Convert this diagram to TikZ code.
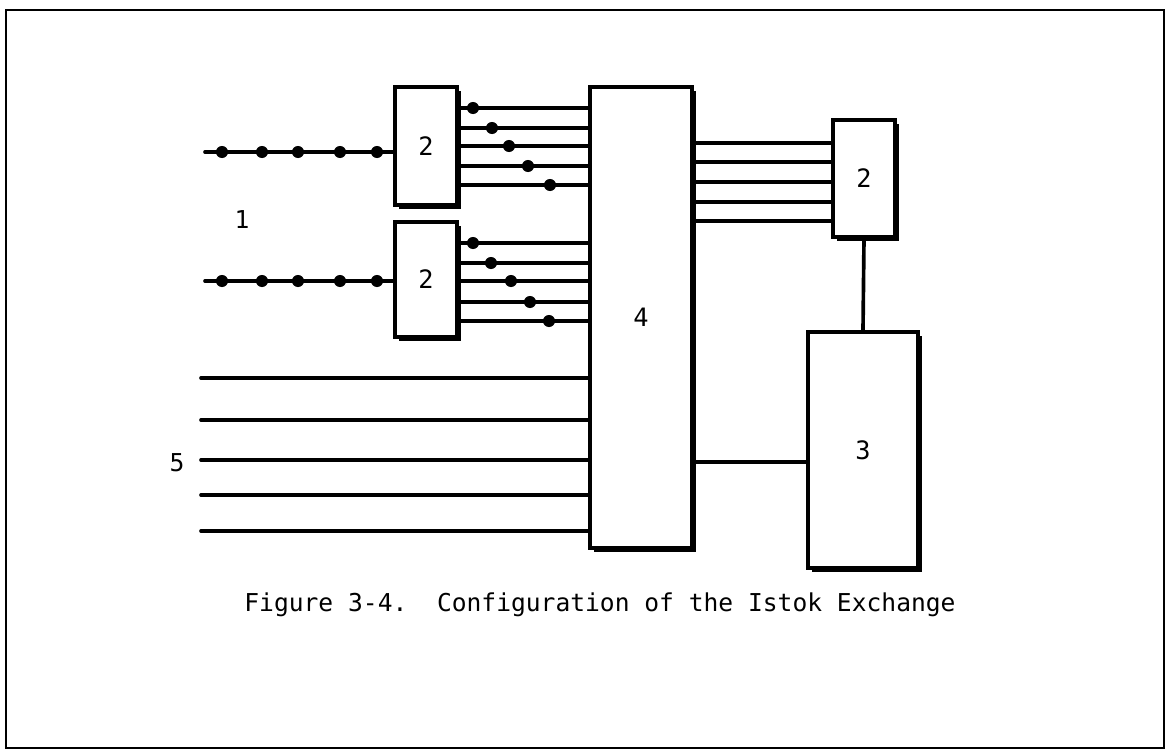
\documentclass[tikz,border=0pt]{standalone}
\usepackage{fontspec}
\newfontfamily\typefont{DejaVu Sans Mono}
\usetikzlibrary{shadows}

\begin{document}
\begin{tikzpicture}[x=0.025cm,y=-0.025cm,
    blk/.style={draw,fill=white,line width=2.6pt,inner sep=0pt,
      drop shadow={shadow xshift=2.8pt,shadow yshift=-2.8pt,fill=black,opacity=1},
      font=\typefont\fontsize{18}{21}\selectfont},
    wire/.style={line width=2.6pt,line cap=round},
    tap/.style={fill=black},
    lbl/.style={font=\typefont\fontsize{17.5}{21}\selectfont}
  ]
    \useasboundingbox (0,0) rectangle (1167,751);
    \draw[line width=2pt] (6,10) rectangle (1164,748);
    % boxes
    \node[blk,minimum width=1.55cm,minimum height=2.95cm](swA) at (426,146) {2};
    \node[blk,minimum width=1.55cm,minimum height=2.875cm](swB) at (426,279.5) {2};
    \node[blk,minimum width=2.55cm,minimum height=11.525cm](exch) at (641,317.5) {4};
    \node[blk,minimum width=1.55cm,minimum height=2.925cm](swC) at (864,178.5) {2};
    \node[blk,minimum width=2.75cm,minimum height=5.9cm](ctrl) at (863,450) {3};
    % dotted input lines
    \coordinate (inA) at (205,152);
    \coordinate (inB) at (205,281);
    \draw[wire] (inA) -- (swA.west |- inA);
    \draw[wire] (inB) -- (swB.west |- inB);
    \foreach \x in {222,262,298,340,377}{
      \fill[tap] (\x,152) circle (4.3pt);
      \fill[tap] (\x,281) circle (4.3pt);}
    % taps into 4
    \foreach \y/\x in {108/473,128/492,146/509,166/528,185/550}{
      \draw[wire] (swA.east |- 0,\y) -- (exch.west |- 0,\y);
      \fill[tap] (\x,\y) circle (4.3pt);}
    \foreach \y/\x in {243/473,263/491,281/511,302/530,321/549}{
      \draw[wire] (swB.east |- 0,\y) -- (exch.west |- 0,\y);
      \fill[tap] (\x,\y) circle (4.3pt);}
    \foreach \y in {143,162,182,202,221}
      \draw[wire] (exch.east |- 0,\y) -- (swC.west |- 0,\y);
    % plain lines
    \foreach \y in {378,420,460,495,531}{
      \coordinate (trk\y) at (201,\y);
      \draw[wire] (trk\y) -- (exch.west |- trk\y);}
    \draw[wire] (swC.south) -- (ctrl.north);
    \draw[wire] (exch.east |- 0,462) -- (ctrl.west |- 0,462);
    % labels
    \node[lbl](grpA) at (242,220) {1};
    \node[lbl](grpB) at (177,463) {5};
    \node[lbl](cap) at (600,605) {Figure 3-4.~~Configuration of the Istok Exchange};
  \end{tikzpicture}
\end{document}
